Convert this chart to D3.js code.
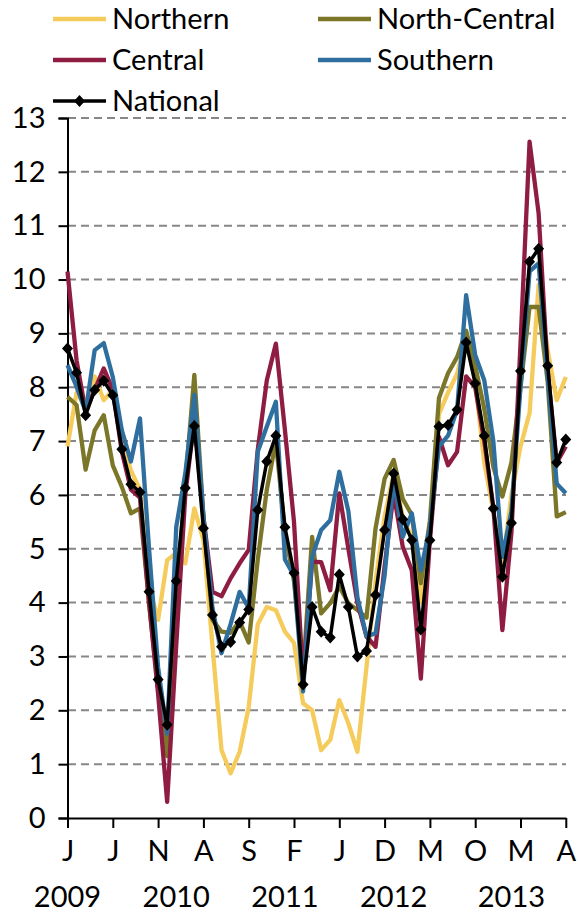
<!DOCTYPE html>
<html><head><meta charset="utf-8">
<script src="https://cdn.jsdelivr.net/npm/d3@7"></script>
<style>
body{margin:0;background:#fff}
svg{display:block}
text{font-family:Lato,"Open Sans",sans-serif;fill:#000}
</style>
</head><body>
<svg id="chart" width="578" height="912"></svg>
<script>
// ---- data ----
const seriesNames = ["Northern", "North-Central", "Central", "Southern", "National"];
const seriesColors = ["#F5CB5C", "#7B7628", "#8F1C41", "#2F6F9F", "#000000"];

const northern = [6.9, 7.9, 7.65, 8.2, 7.76, 7.95, 7.1, 6.45, 6.1, 4.3,
  3.68, 4.79, 4.92, 4.73, 5.75, 5.16, 3.2, 1.26, 0.83, 1.23,
  2.06, 3.6, 3.92, 3.86, 3.46, 3.25, 2.13, 2.0, 1.26, 1.45,
  2.19, 1.76, 1.23, 2.8, 4.4, 5.6, 6.4, 5.6, 5.2, 4.0,
  5.3, 7.5, 7.9, 8.25, 8.9, 8.1, 6.6, 5.7, 4.7, 6.0,
  6.9, 7.52, 9.9, 8.69, 7.76, 8.19];

const northCentral = [7.82, 7.67, 6.47, 7.2, 7.48, 6.55, 6.15, 5.66, 5.75, 4.0,
  2.4, 1.15, 4.0, 6.2, 8.23, 5.6, 3.68, 3.46, 3.44, 3.65,
  3.26, 4.8, 6.1, 7.0, 5.3, 4.4, 2.7, 5.22, 3.8, 3.99,
  4.3, 3.99, 3.86, 3.72, 5.38, 6.3, 6.65, 5.93, 5.63, 4.36,
  5.52, 7.8, 8.26, 8.56, 9.05, 8.4, 7.6, 6.52, 5.97, 6.6,
  8.0, 9.49, 9.49, 8.1, 5.6, 5.68];

const central = [10.15, 8.5, 7.55, 7.95, 8.35, 7.95, 6.8, 6.1, 5.95, 4.0,
  2.3, 0.3, 3.2, 6.0, 7.4, 5.6, 4.2, 4.12, 4.45, 4.73,
  4.98, 6.84, 8.13, 8.81, 7.2, 5.5, 2.6, 4.76, 4.75, 4.23,
  6.03, 5.0, 4.0, 3.37, 3.18, 4.67, 6.03, 5.04, 4.6, 2.59,
  5.16, 7.08, 6.55, 6.8, 8.2, 8.0, 7.0, 5.78, 3.49, 5.3,
  8.8, 12.56, 11.23, 8.3, 6.6, 6.9];

const southern = [8.41, 8.01, 7.55, 8.69, 8.82, 8.19, 7.2, 6.62, 7.42, 5.0,
  2.8, 1.57, 5.4, 6.4, 7.86, 5.6, 3.9, 3.06, 3.6, 4.2,
  3.9, 6.8, 7.27, 7.73, 4.8, 4.5, 2.35, 4.85, 5.35, 5.53,
  6.43, 5.7, 4.1, 3.37, 3.43, 4.5, 6.3, 5.22, 5.66, 4.6,
  5.4, 6.9, 7.1, 7.58, 9.71, 8.6, 8.13, 7.0, 4.85, 5.7,
  8.0, 10.15, 10.3, 8.2, 6.21, 6.03];

const national = [8.72, 8.27, 7.48, 7.95, 8.12, 7.85, 6.85, 6.2, 6.05, 4.2,
  2.57, 1.73, 4.4, 6.13, 7.28, 5.38, 3.77, 3.18, 3.27, 3.63,
  3.87, 5.72, 6.62, 7.1, 5.4, 4.55, 2.48, 3.92, 3.46, 3.35,
  4.52, 3.92, 3.0, 3.1, 4.14, 5.35, 6.4, 5.55, 5.16, 3.5,
  5.16, 7.27, 7.3, 7.58, 8.83, 8.07, 7.1, 5.75, 4.48, 5.48,
  8.3, 10.33, 10.57, 8.4, 6.6, 7.03];

// monthly categories Jan 2009 .. Aug 2013
const months = d3.utcMonth.range(new Date(Date.UTC(2009, 0, 1)), new Date(Date.UTC(2013, 8, 1)))
  .map(d3.utcFormat("%Y-%m"));
const tickLabels = ["J", "J", "N", "A", "S", "F", "J", "D", "M", "O", "M", "A"];
const tickMonths = ["2009-01", "2009-06", "2009-11", "2010-04", "2010-09", "2011-02",
  "2011-07", "2011-12", "2012-05", "2012-10", "2013-03", "2013-08"];
const yearLabels = ["2009", "2010", "2011", "2012", "2013"];
const yearMonths = ["2009-01", "2010-01", "2011-01", "2012-01", "2013-02"];
const yTickValues = [0, 1, 2, 3, 4, 5, 6, 7, 8, 9, 10, 11, 12, 13];

// ---- drawing ----
const svg = d3.select("#chart");
const x = d3.scalePoint().domain(months).range([67.5, 565.8]);
const y = d3.scaleLinear().domain([0, 13]).range([818, 118]);
const FS = 29;

// gridlines
svg.append("g").selectAll("line").data(yTickValues.filter(v => v > 0)).join("line")
  .attr("x1", 68).attr("x2", 566)
  .attr("y1", d => y(d)).attr("y2", d => y(d))
  .attr("stroke", "#878787").attr("stroke-width", 2)
  .attr("stroke-dasharray", "8,5");

// y axis
const yAxis = d3.axisLeft(y).tickValues(yTickValues).tickSize(9).tickPadding(13);
const gy = svg.append("g").attr("transform", "translate(67.5,0)").call(yAxis);
gy.select(".domain").attr("stroke", "#000").attr("stroke-width", 2);
gy.selectAll(".tick line").attr("stroke", "#000").attr("stroke-width", 2);
gy.selectAll(".tick text").attr("font-size", FS).attr("font-family", "Lato").attr("fill", "#000");

// x axis
const xAxis = d3.axisBottom(x).tickValues(tickMonths)
  .tickFormat((d, i) => tickLabels[i]).tickSize(10).tickSizeOuter(0).tickPadding(12);
const gx = svg.append("g").attr("transform", "translate(0,818)").call(xAxis);
gx.select(".domain").attr("stroke", "#000").attr("stroke-width", 2);
gx.selectAll(".tick line").attr("stroke", "#000").attr("stroke-width", 2);
gx.selectAll(".tick text").attr("font-size", FS).attr("font-family", "Lato").attr("fill", "#000");

// year labels
svg.append("g").selectAll("text").data(yearLabels).join("text")
  .attr("x", (d, i) => x(yearMonths[i]))
  .attr("y", 907)
  .attr("text-anchor", "middle")
  .attr("font-size", FS)
  .text(d => d);

// lines
const allSeries = [northern, northCentral, central, southern, national];
const line = d3.line().x((d, i) => x(months[i])).y(d => y(d));
svg.append("g").selectAll("path").data(allSeries).join("path")
  .attr("d", d => line(d))
  .attr("fill", "none")
  .attr("stroke", (d, i) => seriesColors[i])
  .attr("stroke-width", (d, i) => i === 4 ? 3.5 : 4.3)
  .attr("stroke-linejoin", "round");

const diamond = "M0,-6L5.5,0L0,6L-5.5,0Z";
svg.append("g").selectAll("path").data(national).join("path")
  .attr("d", diamond)
  .attr("transform", (d, i) => `translate(${x(months[i])},${y(d)})`)
  .attr("fill", "#000");

// legend
const legendPos = [[53, 19], [318, 19], [53, 60], [318, 60], [53, 101]];
const lg = svg.append("g");
seriesNames.forEach((name, i) => {
  const [lx, ly] = legendPos[i];
  const g = lg.append("g").attr("transform", `translate(${lx},${ly})`);
  g.append("line").attr("x1", 0).attr("x2", 53).attr("y1", 0).attr("y2", 0)
    .attr("stroke", seriesColors[i]).attr("stroke-width", i === 4 ? 3.5 : 4.3);
  if (i === 4) g.append("path").attr("d", diamond).attr("transform", "translate(26.5,0)").attr("fill", "#000");
  g.append("text").attr("x", 59).attr("y", 0).attr("dy", "0.35em")
    .attr("font-size", FS).text(name);
});
</script>
</body></html>
